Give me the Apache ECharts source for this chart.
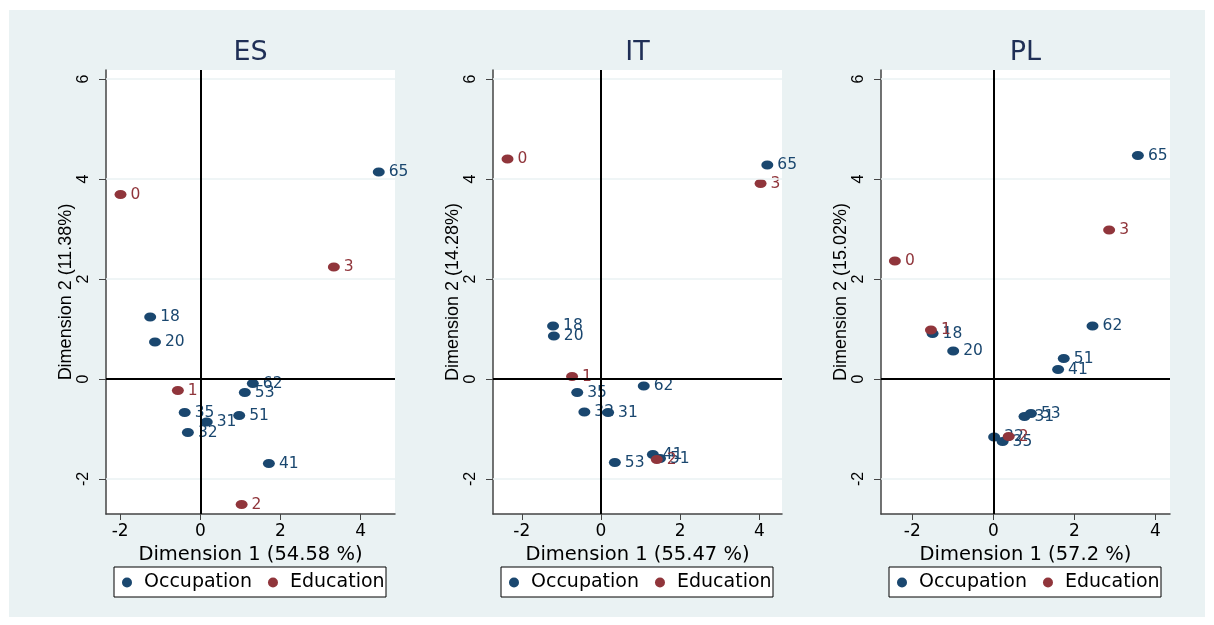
<!DOCTYPE html>
<html>
<head>
<meta charset="utf-8">
<title>Correspondence analysis: occupation and education</title>
<script src="https://cdn.jsdelivr.net/npm/echarts@6/dist/echarts.min.js"></script>
<style>
  html, body { margin: 0; padding: 0; background: #ffffff; }
  #chart { width: 1214px; height: 625px; }
</style>
</head>
<body>
<div id="chart"></div>
<script>
// Category codes
const countries = ['ES', 'IT', 'PL'];
const occupationCodes = ['18', '20', '31', '32', '35', '41', '51', '53', '62', '65'];
const educationCodes = ['0', '1', '2', '3'];

// Axis titles (share of inertia per dimension)
const dim1Titles = ['Dimension 1 (54.58 %)', 'Dimension 1 (55.47 %)', 'Dimension 1 (57.2 %)'];
const dim2Titles = ['Dimension 2 (11.38%)', 'Dimension 2 (14.28%)', 'Dimension 2 (15.02%)'];

// Tick values
const xTicks = [-2, 0, 2, 4];
const yTicks = [-2, 0, 2, 4, 6];

// ES coordinates
const esOccDim1 = [-1.25, -1.13, 0.16, -0.31, -0.39, 1.71, 0.97, 1.11, 1.31, 4.45];
const esOccDim2 = [1.24, 0.74, -0.86, -1.07, -0.67, -1.69, -0.73, -0.27, -0.09, 4.14];
const esEduDim1 = [-1.99, -0.56, 1.03, 3.33];
const esEduDim2 = [3.69, -0.23, -2.51, 2.24];

// IT coordinates
const itOccDim1 = [-1.21, -1.19, 0.18, -0.42, -0.60, 1.31, 1.49, 0.35, 1.08, 4.20];
const itOccDim2 = [1.06, 0.86, -0.67, -0.66, -0.27, -1.51, -1.59, -1.67, -0.14, 4.28];
const itEduDim1 = [-2.36, -0.73, 1.41, 4.03];
const itEduDim2 = [4.40, 0.05, -1.61, 3.91];

// PL coordinates
const plOccDim1 = [-1.50, -0.99, 0.77, 0.02, 0.23, 1.60, 1.74, 0.93, 2.45, 3.57];
const plOccDim2 = [0.91, 0.56, -0.75, -1.16, -1.25, 0.19, 0.41, -0.69, 1.06, 4.47];
const plEduDim1 = [-2.43, -1.54, 0.38, 2.86];
const plEduDim2 = [2.36, 0.98, -1.15, 2.98];

const panels = [
  { occX: esOccDim1, occY: esOccDim2, eduX: esEduDim1, eduY: esEduDim2 },
  { occX: itOccDim1, occY: itOccDim2, eduX: itEduDim1, eduY: itEduDim2 },
  { occX: plOccDim1, occY: plOccDim2, eduX: plEduDim1, eduY: plEduDim2 }
];

// Layout
const NAVY = '#1a476f';
const MAROON = '#90353b';
const BG = '#eaf2f3';
const WIDE_FONT = 'DejaVu Sans';
const PLAIN_FONT = 'Liberation Sans';
const gridLeft = [106, 493, 881];
const gridTop = 70, gridW = 289, gridH = 444;
const xMin = [-2.352, -2.727, -2.773];
const xMax = [4.855, 4.571, 4.363];
const yMin = -2.7, yMax = 6.18;

function points(xs, ys, codes) {
  return xs.map((x, i) => ({ name: codes[i], value: [x, ys[i]] }));
}

const grids = [], xAxes = [], yAxes = [], series = [], legends = [], graphics = [];

graphics.push({
  type: 'rect', z: -10, silent: true,
  shape: { x: 9, y: 10, width: 1196, height: 607 },
  style: { fill: BG }
});

panels.forEach((p, i) => {
  const left = gridLeft[i];
  grids.push({
    left: left, top: gridTop, width: gridW, height: gridH,
    show: true, backgroundColor: '#ffffff', borderWidth: 0
  });
  xAxes.push({
    type: 'value', gridIndex: i, min: xMin[i], max: xMax[i],
    name: dim1Titles[i], nameLocation: 'middle', nameGap: 24,
    nameTextStyle: { fontFamily: WIDE_FONT, fontSize: 19.5, color: '#000' },
    axisLine: { show: true, onZero: false, lineStyle: { color: '#444', width: 1.5 } },
    axisTick: { show: true, length: 6, customValues: xTicks, lineStyle: { color: '#444' } },
    axisLabel: { customValues: xTicks, margin: 9, fontFamily: WIDE_FONT, fontSize: 17, color: '#000' },
    splitLine: { show: false }
  });
  yAxes.push({
    type: 'value', gridIndex: i, min: yMin, max: yMax,
    name: dim2Titles[i], nameLocation: 'middle', nameRotate: 90, nameGap: 30,
    nameTextStyle: { fontFamily: PLAIN_FONT, fontSize: 18, color: '#000' },
    axisLine: { show: true, onZero: false, lineStyle: { color: '#444', width: 1.5 } },
    axisTick: { show: true, length: 7, customValues: yTicks, lineStyle: { color: '#444' } },
    axisLabel: { customValues: yTicks, rotate: 90, margin: 14, fontFamily: PLAIN_FONT, fontSize: 16, color: '#000' },
    splitLine: { show: false }
  });

  // Gridlines and reference lines at zero
  series.push({
    type: 'scatter', name: 'guides', xAxisIndex: i, yAxisIndex: i, data: [], z: 1, silent: true,
    markLine: {
      silent: true, symbol: 'none', label: { show: false }, animation: false,
      data: [
        ...yTicks.filter(v => v !== 0).map(v => ({ yAxis: v, lineStyle: { color: BG, width: 1.5, type: 'solid' } })),
        { yAxis: 0, lineStyle: { color: '#000', width: 2, type: 'solid' } },
        { xAxis: 0, lineStyle: { color: '#000', width: 2, type: 'solid' } }
      ]
    }
  });

  const labelFor = (color) => ({
    show: true, position: 'right', distance: 4, formatter: '{b}',
    fontFamily: WIDE_FONT, fontSize: 15.5, color: color
  });

  series.push({
    type: 'scatter', name: 'Occupation', xAxisIndex: i, yAxisIndex: i, z: 3,
    symbol: 'circle', symbolSize: [12, 9],
    itemStyle: { color: NAVY, opacity: 1 },
    label: labelFor(NAVY),
    data: points(p.occX, p.occY, occupationCodes)
  });
  series.push({
    type: 'scatter', name: 'Education', xAxisIndex: i, yAxisIndex: i, z: 4,
    symbol: 'circle', symbolSize: [12, 9],
    itemStyle: { color: MAROON, opacity: 1 },
    label: labelFor(MAROON),
    data: points(p.eduX, p.eduY, educationCodes)
  });

  // Panel title
  graphics.push({
    type: 'text', x: left + gridW / 2, y: 53, silent: true,
    style: { text: countries[i], fill: '#1f2f56', font: '27px "DejaVu Sans"', align: 'center', verticalAlign: 'middle' }
  });

  // Legend frame
  const boxLeft = left + 8;
  graphics.push({
    type: 'rect', silent: true, z: 0,
    shape: { x: boxLeft, y: 567, width: 272, height: 30 },
    style: { fill: '#ffffff', stroke: '#000', lineWidth: 1 }
  });
  legends.push({
    data: ['Occupation', 'Education'],
    left: boxLeft + 8, top: 573, padding: 0, itemGap: 16,
    icon: 'circle', itemWidth: 12, itemHeight: 10, symbolKeepAspect: false,
    selectedMode: false, z: 5,
    textStyle: { fontFamily: WIDE_FONT, fontSize: 19, color: '#000', padding: [0, 0, 0, 6] }
  });
});

const chart = echarts.init(document.getElementById('chart'), null, { renderer: 'canvas' });
chart.setOption({
  backgroundColor: '#ffffff',
  animation: false,
  graphic: graphics,
  grid: grids,
  xAxis: xAxes,
  yAxis: yAxes,
  legend: legends,
  series: series
});
</script>
</body>
</html>
